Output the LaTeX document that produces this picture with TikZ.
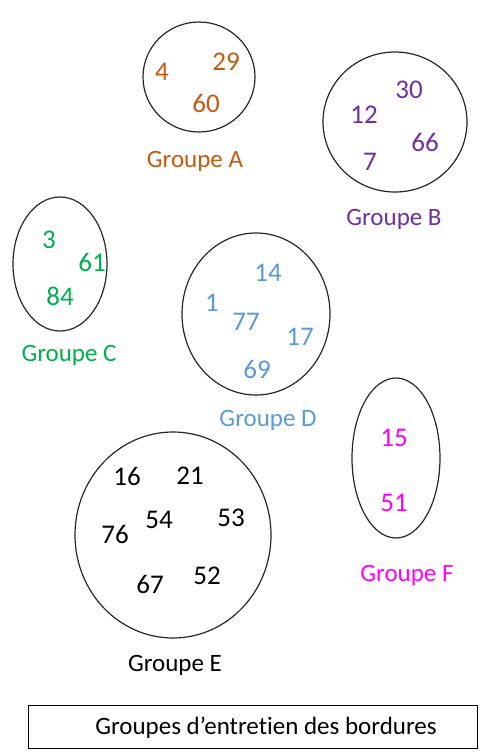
\documentclass[tikz,border=0pt]{standalone}
\usepackage{fontspec}
\setmainfont[Ligatures=NoCommon]{Carlito}
\definecolor{cA}{HTML}{C55A11}
\definecolor{cB}{HTML}{7030A0}
\definecolor{cC}{HTML}{00B050}
\definecolor{cD}{HTML}{5B9BD5}
\definecolor{cF}{HTML}{FF00FF}
\begin{document}
\begin{tikzpicture}[x=1pt,y=-1pt,
  grp/.style={draw=black!85,line width=1.2pt},
  num/.style={font=\fontsize{27}{30}\selectfont,inner sep=0pt},
  lab/.style={font=\fontsize{25}{29}\selectfont,inner sep=0pt}]
\useasboundingbox (0,0) rectangle (493,753);
% Group A
\draw[grp] (199,77) ellipse [x radius=56,y radius=55];
\node[num,text=cA] (a4) at (162,72) {4};
\node[num,text=cA] (a29) at (226,62) {29};
\node[num,text=cA] (a60) at (206,103) {60};
\node[lab,text=cA] (la) at (195,161) {Groupe A};
% Group B
\draw[grp] (395,122) ellipse [x radius=72,y radius=70];
\node[num,text=cB] (b30) at (409,90) {30};
\node[num,text=cB] (b12) at (364,115) {12};
\node[num,text=cB] (b66) at (425,142) {66};
\node[num,text=cB] (b7) at (370,162) {7};
\node[lab,text=cB] (lb) at (394,219) {Groupe B};
% Group C
\draw[grp] (60,264) ellipse [x radius=47,y radius=67];
\node[num,text=cC] (c3) at (49,240) {3};
\node[num,text=cC] (c61) at (92,262) {61};
\node[num,text=cC] (c84) at (60,296) {84};
\node[lab,text=cC] (lc) at (69,355) {Groupe C};
% Group D
\draw[grp] (256,314) ellipse [x radius=74,y radius=81];
\node[num,text=cD] (d14) at (268,273) {14};
\node[num,text=cD] (d1) at (212,303) {1};
\node[num,text=cD] (d77) at (246,322) {77};
\node[num,text=cD] (d17) at (300,337) {17};
\node[num,text=cD] (d69) at (257,369) {69};
\node[lab,text=cD] (ld) at (268,420) {Groupe D};
% Group F
\draw[grp] (396,458) ellipse [x radius=44,y radius=80];
\node[num,text=cF] (f15) at (394,438) {15};
\node[num,text=cF] (f51) at (394,503) {51};
\node[lab,text=cF] (lf) at (407,575) {Groupe F};
% Group E
\draw[grp] (173,535) ellipse [x radius=98,y radius=103];
\node[num] (e16) at (127,476) {16};
\node[num] (e21) at (190,476) {21};
\node[num] (e76) at (115,534) {76};
\node[num] (e54) at (159,520) {54};
\node[num] (e53) at (231,518) {53};
\node[num] (e67) at (150,584) {67};
\node[num] (e52) at (207,576) {52};
\node[lab] (le) at (175,665) {Groupe E};
% Title box
\draw[line width=1pt] (28,705) rectangle (477,748);
\node[lab] (title) at (266,728) {Groupes d’entretien des bordures};
\end{tikzpicture}
\end{document}
